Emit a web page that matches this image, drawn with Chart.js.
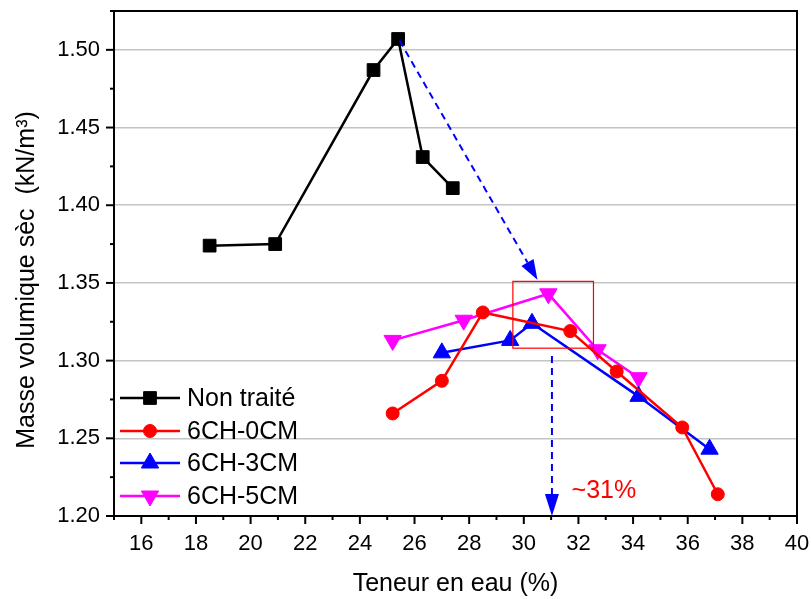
<!DOCTYPE html>
<html>
<head>
<meta charset="utf-8">
<script src="https://cdn.jsdelivr.net/npm/chart.js@4.4.0/dist/chart.umd.min.js"></script>
<style>
  html, body { margin: 0; background: #fff; }
  #wrap { width: 811px; height: 599px; }
</style>
</head>
<body>
<div id="wrap"><canvas id="mychart"></canvas></div>
<script>
const seriesNames = ['Non traité', '6CH-0CM', '6CH-3CM', '6CH-5CM'];
const seriesColors = ['#000000', '#ff0000', '#0000ff', '#ff00ff'];

const nonTraiteX = [18.5, 20.9, 24.5, 25.4, 26.3, 27.4];
const nonTraiteY = [1.374, 1.375, 1.487, 1.507, 1.431, 1.411];
const ch0X = [25.2, 27.0, 28.5, 31.7, 33.4, 35.8, 37.1];
const ch0Y = [1.266, 1.287, 1.331, 1.319, 1.293, 1.257, 1.214];
const ch3X = [27.0, 29.5, 30.3, 34.2, 36.8];
const ch3Y = [1.305, 1.313, 1.324, 1.277, 1.243];
const ch5X = [25.2, 27.8, 30.9, 32.7, 34.2];
const ch5Y = [1.313, 1.326, 1.343, 1.307, 1.289];

const xTitle = 'Teneur en eau (%)';
const yTitle = 'Masse volumique sèc  (kN/m³)';
const optimumLabel = '~31%';

const FONT = '"Liberation Sans", Arial, sans-serif';

const toPoints = (xs, ys) => xs.map((x, i) => ({ x: x, y: ys[i] }));

const markers = [
    { pointStyle: 'rect', radius: 9, rotation: 0 },
    { pointStyle: 'circle', radius: 6.5, rotation: 0 },
    { pointStyle: 'triangle', radius: 10, rotation: 0 },
    { pointStyle: 'triangle', radius: 10, rotation: 180 }
];

const makeSet = (i, xs, ys) => ({
    label: seriesNames[i],
    data: toPoints(xs, ys),
    borderColor: seriesColors[i],
    backgroundColor: seriesColors[i],
    borderWidth: 2.5,
    pointStyle: markers[i].pointStyle,
    pointRadius: markers[i].radius,
    pointRotation: markers[i].rotation,
    pointBorderWidth: 1,
    showLine: true,
    tension: 0
});

const isMajorY = v => Math.round(v * 1000) % 50 === 0;

const arrow = (ctx, x1, y1, x2, y2, len, half) => {
    const a = Math.atan2(y2 - y1, x2 - x1);
    const bx = x2 - Math.cos(a) * len, by = y2 - Math.sin(a) * len;
    ctx.setLineDash([7, 5]);
    ctx.beginPath();
    ctx.moveTo(x1, y1);
    ctx.lineTo(bx, by);
    ctx.stroke();
    ctx.setLineDash([]);
    ctx.beginPath();
    ctx.moveTo(x2, y2);
    ctx.lineTo(bx + Math.sin(a) * half, by - Math.cos(a) * half);
    ctx.lineTo(bx - Math.sin(a) * half, by + Math.cos(a) * half);
    ctx.closePath();
    ctx.fill();
};

const decor = {
    id: 'decor',
    afterDraw(chart) {
        const ctx = chart.ctx;
        const a = chart.chartArea;
        const xs = chart.scales.x, ys = chart.scales.y;
        ctx.save();

        // frame
        ctx.strokeStyle = '#000';
        ctx.lineWidth = 2;
        ctx.strokeRect(a.left, a.top, a.right - a.left, a.bottom - a.top);

        // ticks
        ctx.lineWidth = 2;
        xs.ticks.forEach(t => {
            const px = xs.getPixelForValue(t.value);
            const len = t.value % 2 === 0 ? 8 : 4;
            ctx.beginPath();
            ctx.moveTo(px, a.bottom);
            ctx.lineTo(px, a.bottom + len);
            ctx.stroke();
        });
        ys.ticks.forEach(t => {
            const py = ys.getPixelForValue(t.value);
            const len = isMajorY(t.value) ? 8 : 4;
            ctx.beginPath();
            ctx.moveTo(a.left, py);
            ctx.lineTo(a.left - len, py);
            ctx.stroke();
        });

        // y title
        ctx.fillStyle = '#000';
        ctx.font = '25px ' + FONT;
        ctx.textAlign = 'center';
        ctx.textBaseline = 'middle';
        ctx.translate(27, 280);
        ctx.rotate(-Math.PI / 2);
        ctx.fillText(yTitle, 0, 0);
        ctx.setTransform(1, 0, 0, 1, 0, 0);

        // annotations
        ctx.strokeStyle = '#0000ff';
        ctx.fillStyle = '#0000ff';
        ctx.lineWidth = 2;
        arrow(ctx, xs.getPixelForValue(25.45), ys.getPixelForValue(1.506),
            xs.getPixelForValue(30.5), ys.getPixelForValue(1.352), 20, 7);
        arrow(ctx, xs.getPixelForValue(31.03), ys.getPixelForValue(1.303),
            xs.getPixelForValue(31.03), ys.getPixelForValue(1.2), 22, 7);

        ctx.strokeStyle = '#ff0000';
        ctx.lineWidth = 1.2;
        const rx1 = xs.getPixelForValue(29.6), rx2 = xs.getPixelForValue(32.55);
        const ry1 = ys.getPixelForValue(1.351), ry2 = ys.getPixelForValue(1.308);
        ctx.strokeRect(rx1, ry1, rx2 - rx1, ry2 - ry1);

        ctx.fillStyle = '#ff0000';
        ctx.font = '25px ' + FONT;
        ctx.textAlign = 'left';
        ctx.fillText(optimumLabel, xs.getPixelForValue(31.75), ys.getPixelForValue(1.216));

        // legend
        ctx.font = '25px ' + FONT;
        const rows = [398, 431, 463, 496];
        chart.data.datasets.forEach((ds, i) => {
            const y = rows[i];
            ctx.strokeStyle = ds.borderColor;
            ctx.fillStyle = ds.backgroundColor;
            ctx.lineWidth = 2.5;
            ctx.beginPath();
            ctx.moveTo(120, y);
            ctx.lineTo(180, y);
            ctx.stroke();
            ctx.lineWidth = 1;
            Chart.helpers.drawPoint(ctx, {
                pointStyle: markers[i].pointStyle,
                radius: markers[i].radius,
                rotation: markers[i].rotation,
                borderWidth: 1
            }, 150, y);
            ctx.fillStyle = '#000';
            ctx.textAlign = 'left';
            ctx.fillText(ds.label, 187, y + 1);
        });
        ctx.restore();
    }
};

const ctx = document.getElementById('mychart').getContext('2d');
let myChart = new Chart(ctx, {
    type: 'scatter',
    data: {
        datasets: [
            makeSet(0, nonTraiteX, nonTraiteY),
            makeSet(1, ch0X, ch0Y),
            makeSet(2, ch3X, ch3Y),
            makeSet(3, ch5X, ch5Y)
        ]
    },
    options: {
        responsive: true,
        maintainAspectRatio: false,
        animation: false,
        layout: { padding: { top: 11, right: 14, left: 0, bottom: 0 } },
        plugins: {
            legend: { display: false },
            tooltip: { enabled: false }
        },
        scales: {
            x: {
                type: 'linear',
                min: 15,
                max: 40,
                ticks: {
                    stepSize: 1,
                    autoSkip: false,
                    maxRotation: 0,
                    padding: 15,
                    color: '#000',
                    font: { family: FONT, size: 22 },
                    callback: v => (v % 2 === 0 ? String(v) : '')
                },
                grid: { drawOnChartArea: false, drawTicks: false },
                border: { display: true, color: '#000', width: 2 },
                title: {
                    display: true,
                    text: xTitle,
                    color: '#000',
                    font: { family: FONT, size: 25 },
                    padding: { top: 0, bottom: 0 }
                },
                afterFit: s => {
                    s.height = 83;
                    s.paddingLeft = 0;
                    s.paddingRight = 0;
                }
            },
            y: {
                type: 'linear',
                min: 1.2,
                max: 1.525,
                ticks: {
                    stepSize: 0.025,
                    autoSkip: false,
                    padding: 14,
                    color: '#000',
                    font: { family: FONT, size: 22 },
                    callback: v => (isMajorY(v) ? v.toFixed(2) : '')
                },
                grid: {
                    drawTicks: false,
                    lineWidth: 1.5,
                    color: c => (c.tick && isMajorY(c.tick.value) ? '#c4c4c4' : 'rgba(0,0,0,0)')
                },
                border: { display: true, color: '#000', width: 2 },
                afterFit: s => {
                    s.width = 114;
                    s.paddingTop = 0;
                    s.paddingBottom = 0;
                }
            }
        }
    },
    plugins: [decor]
});
</script>
</body>
</html>
